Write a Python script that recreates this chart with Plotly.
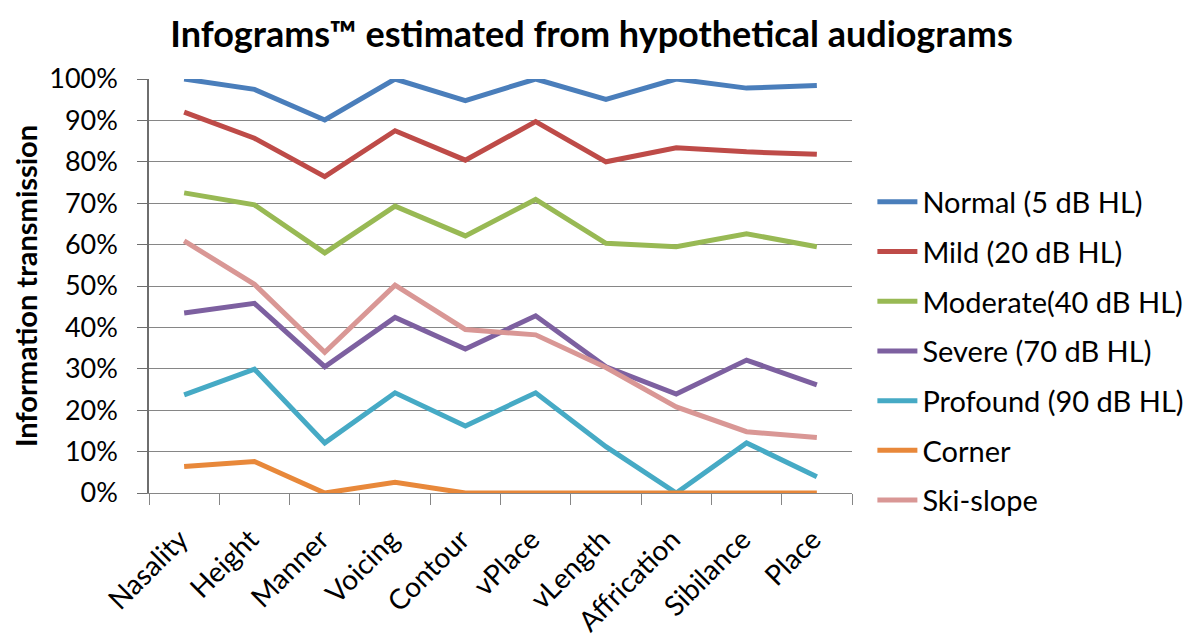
import plotly.graph_objects as go

categories = ["Nasality", "Height", "Manner", "Voicing", "Contour", "vPlace",
              "vLength", "Affrication", "Sibilance", "Place"]

normal   = [100, 97.5, 90.1, 100, 94.8, 100, 95.1, 100, 97.8, 98.4]
mild     = [92.0, 85.7, 76.4, 87.5, 80.4, 89.7, 80.0, 83.4, 82.4, 81.8]
moderate = [72.5, 69.6, 58.0, 69.3, 62.1, 70.9, 60.3, 59.5, 62.6, 59.5]
severe   = [43.5, 45.8, 30.5, 42.4, 34.8, 42.8, 30.5, 23.9, 32.1, 26.1]
profound = [23.7, 29.9, 12.1, 24.2, 16.2, 24.2, 11.2, 0.0, 12.1, 3.9]
corner   = [6.4, 7.6, 0.0, 2.6, 0.0, 0.0, 0.0, 0.0, 0.0, 0.0]
skislope = [60.9, 50.4, 34.0, 50.2, 39.5, 38.2, 30.3, 20.8, 14.8, 13.4]

series_names = ["Normal (5 dB HL)", "Mild (20 dB HL)", "Moderate(40 dB HL)",
                "Severe (70 dB HL)", "Profound (90 dB HL)", "Corner", "Ski-slope"]
series_values = [normal, mild, moderate, severe, profound, corner, skislope]
colors = ["#4A7EBB", "#BE4B48", "#98B954", "#7D60A0", "#46AAC5", "#E8883A", "#D99795"]

FONT = "Lato, 'Open Sans', sans-serif"

fig = go.Figure()
for i, (name, vals, col) in enumerate(zip(series_names, series_values, colors)):
    fig.add_trace(go.Scatter(
        x=categories, y=[v / 100 for v in vals], name=name, mode="lines",
        line=dict(color=col, width=5), legendgroup=f"g{i}",
    ))

fig.update_layout(
    width=1189, height=629,
    margin=dict(l=141, r=345, t=71, b=144, autoexpand=False),
    paper_bgcolor="white", plot_bgcolor="white",
    font=dict(family=FONT, color="#000000", size=27),
    title=dict(text="<b>Infograms™ estimated from hypothetical audiograms</b>",
               x=0.4908, xanchor="center", y=0.958, yanchor="middle",
               font=dict(size=36, family=FONT)),
    showlegend=True,
    legend=dict(x=1.029, xanchor="left", y=0.343, yanchor="middle",
                font=dict(size=29, family=FONT), tracegroupgap=9,
                bgcolor="rgba(0,0,0,0)", itemwidth=40),
)
fig.update_xaxes(
    type="category", showgrid=False, showline=True, linecolor="#868686", linewidth=1,
    ticks="outside", tickson="boundaries", ticklen=11, tickcolor="#868686",
    tickangle=-45, tickfont=dict(size=28, family=FONT), range=[-0.5, 9.5],
    ticklabelstandoff=18, ticklabelshift=-4,
)
fig.update_yaxes(
    range=[0, 1.0], tickformat=".0%", dtick=0.1, showgrid=True, gridcolor="#868686",
    gridwidth=1, showline=True, linecolor="#6E6E6E", linewidth=1.5, ticks="outside",
    ticklen=10, tickcolor="#6E6E6E", tickfont=dict(size=27, family=FONT),
    ticklabelstandoff=14,
    title=dict(text="<b>Information transmission</b>", font=dict(size=29, family=FONT),
               standoff=14),
    zeroline=False,
)

fig.write_html("out.html")
